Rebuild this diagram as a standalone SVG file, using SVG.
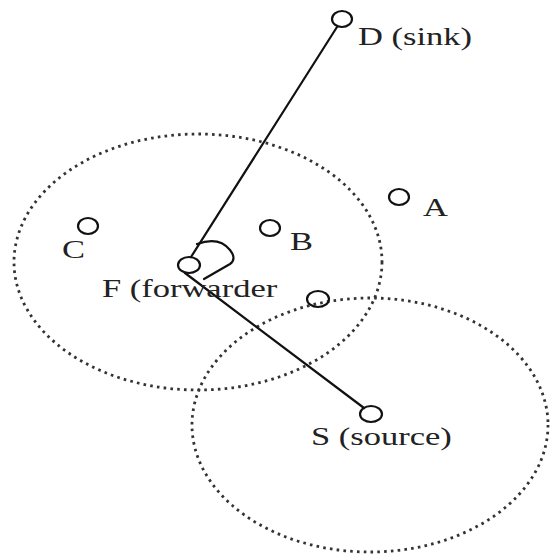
<svg xmlns="http://www.w3.org/2000/svg" width="551" height="554" viewBox="0 0 551 554">
<style>
.range{fill:none;stroke:#333;stroke-width:2.8;stroke-dasharray:2.6 4.2;stroke-linecap:butt}
.node{fill:none;stroke:#111;stroke-width:2.2}
.link{fill:none;stroke:#111;stroke-width:2.2;stroke-linecap:round;stroke-linejoin:round}
.lbl{font-family:'Liberation Serif',serif;font-size:25px;fill:#222}
</style>
<rect width="551" height="554" fill="#fff"/>
<g id="ranges">
<ellipse class="range" cx="198" cy="262" rx="184" ry="128"/>
<ellipse class="range" cx="370" cy="425" rx="178" ry="127"/>
</g>
<g id="connectors">
<line class="link" x1="337" y1="27" x2="191" y2="257"/>
<line class="link" x1="185" y1="273" x2="364" y2="408"/>
<path class="link" d="M197,244 Q219,236 230,250 Q237,259 230,264 L204,279"/>
</g>
<g id="node-D"><ellipse class="node" cx="342" cy="19" rx="10" ry="8"/><text class="lbl" x="358" y="45" transform="translate(358 45) scale(1.38 1) translate(-358 -45)">D (sink)</text></g>
<g id="node-A"><ellipse class="node" cx="399" cy="197" rx="10" ry="8"/><text class="lbl" x="423" y="216" transform="translate(423 216) scale(1.38 1) translate(-423 -216)">A</text></g>
<g id="node-B"><ellipse class="node" cx="270" cy="228" rx="10" ry="8"/><text class="lbl" x="290" y="250" transform="translate(290 250) scale(1.38 1) translate(-290 -250)">B</text></g>
<g id="node-C"><ellipse class="node" cx="88" cy="226" rx="10" ry="8"/><text class="lbl" x="62" y="258" transform="translate(62 258) scale(1.38 1) translate(-62 -258)">C</text></g>
<g id="node-F"><ellipse class="node" cx="189" cy="265" rx="11" ry="8"/><text class="lbl" x="102" y="297" transform="translate(102 297) scale(1.38 1) translate(-102 -297)">F (forwarder</text></g>
<g id="node-X"><ellipse class="node" cx="318" cy="299" rx="11" ry="8"/></g>
<g id="node-S"><ellipse class="node" cx="371" cy="414" rx="11" ry="8"/><text class="lbl" x="311" y="445" transform="translate(311 445) scale(1.38 1) translate(-311 -445)">S (source)</text></g>
</svg>
